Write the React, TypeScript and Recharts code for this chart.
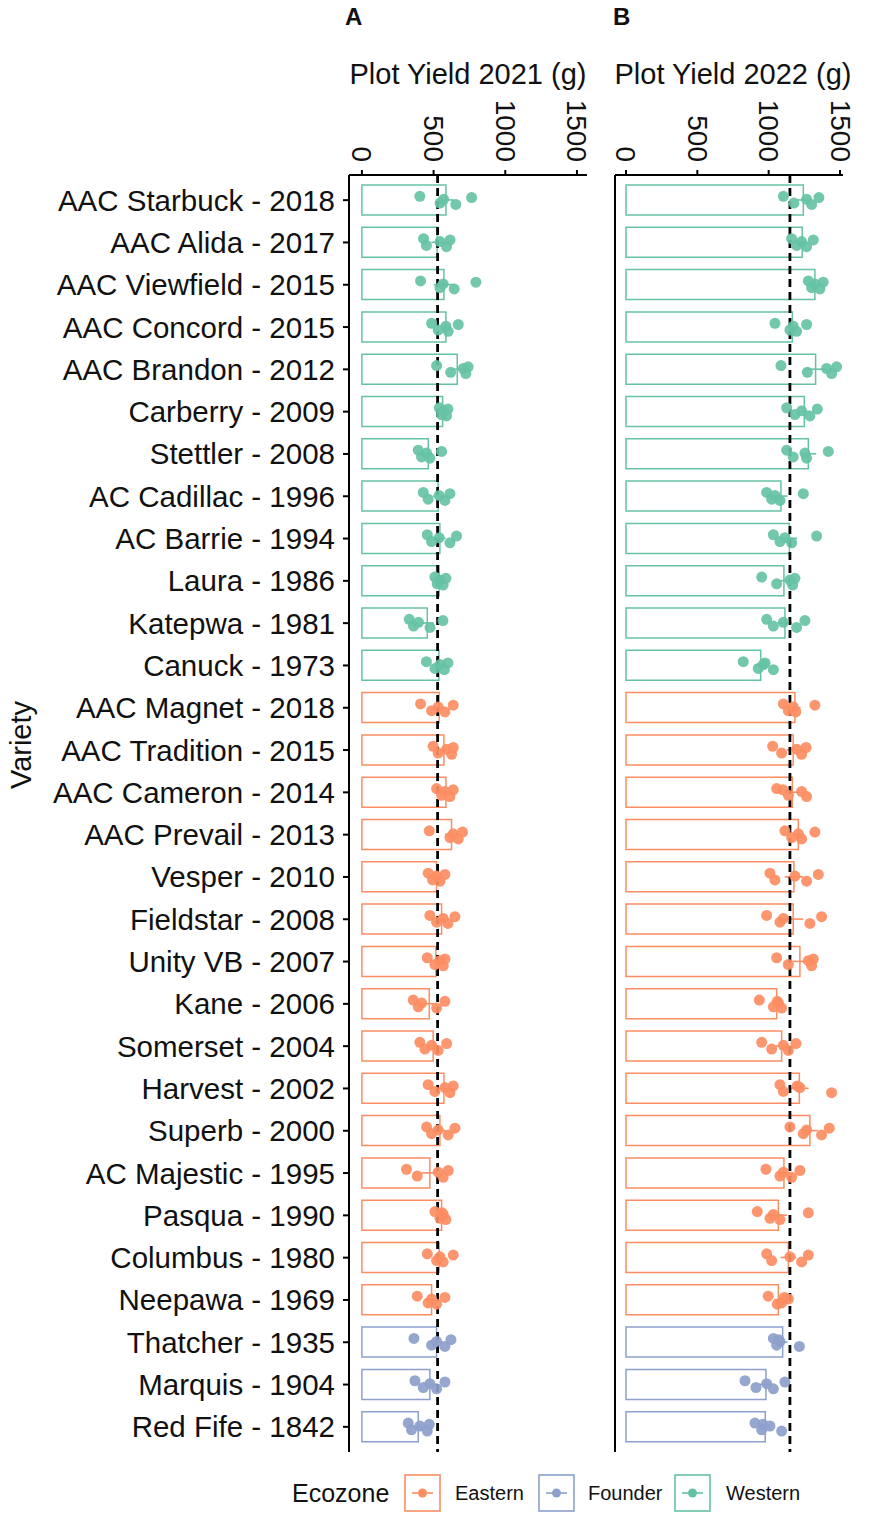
import React from "react"
import { ComposedChart, Bar, Scatter, XAxis, YAxis, ReferenceLine, ErrorBar } from "recharts"

const FONT = "'Liberation Sans', Arial, sans-serif"

const varieties = [
  "AAC Starbuck - 2018", "AAC Alida - 2017", "AAC Viewfield - 2015", "AAC Concord - 2015",
  "AAC Brandon - 2012", "Carberry - 2009", "Stettler - 2008", "AC Cadillac - 1996",
  "AC Barrie - 1994", "Laura - 1986", "Katepwa - 1981", "Canuck - 1973",
  "AAC Magnet - 2018", "AAC Tradition - 2015", "AAC Cameron - 2014", "AAC Prevail - 2013",
  "Vesper - 2010", "Fieldstar - 2008", "Unity VB - 2007", "Kane - 2006",
  "Somerset - 2004", "Harvest - 2002", "Superb - 2000", "AC Majestic - 1995",
  "Pasqua - 1990", "Columbus - 1980", "Neepawa - 1969", "Thatcher - 1935",
  "Marquis - 1904", "Red Fife - 1842",
]

const ecozones = [
  "Western", "Western", "Western", "Western", "Western", "Western",
  "Western", "Western", "Western", "Western", "Western", "Western",
  "Eastern", "Eastern", "Eastern", "Eastern", "Eastern", "Eastern", "Eastern",
  "Eastern", "Eastern", "Eastern", "Eastern", "Eastern", "Eastern", "Eastern", "Eastern",
  "Founder", "Founder", "Founder",
]

const mean2021 = [586, 525, 572, 586, 665, 563, 463, 532, 544, 539, 456, 537, 539, 572, 586, 625, 521, 556, 516, 470, 497, 572, 544, 474, 556, 539, 486, 521, 474, 393]
const se2021 = [55, 40, 70, 35, 40, 15, 30, 35, 40, 15, 45, 25, 40, 25, 20, 45, 20, 35, 25, 45, 35, 35, 40, 55, 15, 30, 35, 45, 40, 30]
const mean2022 = [1243, 1235, 1324, 1166, 1329, 1250, 1278, 1086, 1145, 1107, 1114, 944, 1184, 1172, 1166, 1208, 1177, 1172, 1219, 1056, 1091, 1215, 1289, 1107, 1068, 1138, 1068, 1098, 981, 976]
const se2022 = [45, 25, 20, 40, 75, 40, 55, 45, 55, 45, 50, 40, 40, 45, 45, 35, 65, 70, 50, 30, 40, 65, 55, 45, 60, 55, 30, 35, 50, 35]

const points2021 = [
  [404, 545, 570, 655, 765], [430, 450, 545, 590, 615], [409, 544, 567, 644, 795],
  [486, 532, 586, 602, 672], [521, 619, 707, 725, 741], [540, 555, 570, 590, 600],
  [393, 416, 451, 474, 556], [428, 462, 539, 579, 614], [456, 486, 539, 614, 660],
  [509, 525, 544, 567, 586], [330, 360, 395, 475, 565], [450, 510, 545, 575, 600],
  [409, 486, 532, 579, 637], [497, 532, 591, 626, 637], [521, 556, 579, 614, 637],
  [470, 614, 637, 672, 702], [462, 493, 521, 545, 579], [474, 521, 567, 600, 649],
  [456, 509, 544, 567, 579], [358, 393, 416, 521, 579], [404, 439, 486, 532, 591],
  [462, 509, 579, 614, 637], [451, 486, 532, 602, 649], [311, 386, 532, 567, 602],
  [509, 544, 567, 586, 560], [456, 521, 544, 567, 637], [386, 462, 486, 521, 579],
  [363, 486, 521, 579, 621], [370, 428, 474, 521, 579], [323, 346, 404, 456, 470],
]

const points2022 = [
  [1103, 1177, 1266, 1301, 1352], [1161, 1196, 1231, 1266, 1313], [1278, 1301, 1324, 1359, 1382],
  [1044, 1149, 1172, 1196, 1266], [1086, 1271, 1406, 1441, 1476], [1126, 1184, 1231, 1289, 1341],
  [1126, 1172, 1254, 1266, 1418], [986, 1021, 1044, 1079, 1243], [1033, 1079, 1114, 1161, 1336],
  [951, 1056, 1149, 1168, 1184], [986, 1033, 1103, 1196, 1254], [822, 927, 962, 1033, 975],
  [1103, 1138, 1172, 1190, 1324], [1028, 1091, 1196, 1231, 1262], [1056, 1138, 1231, 1266, 1100],
  [1114, 1161, 1208, 1231, 1324], [1009, 1044, 1184, 1266, 1348], [986, 1079, 1103, 1289, 1371],
  [1056, 1138, 1278, 1301, 1313], [934, 1033, 1068, 1091, 1060], [951, 1021, 1103, 1138, 1191],
  [1079, 1103, 1219, 1441, 1200], [1149, 1243, 1266, 1371, 1425], [981, 1079, 1103, 1161, 1219],
  [920, 1009, 1033, 1079, 1278], [986, 1021, 1149, 1231, 1278], [997, 1091, 1138, 1060, 1110],
  [1033, 1056, 1079, 1215, 1070], [834, 911, 986, 1033, 1114], [904, 951, 1009, 1091, 960],
]

const overallMean2021 = 528
const overallMean2022 = 1149
const xTicks = [0, 500, 1000, 1500]
const zoneNames = ["Eastern", "Founder", "Western"]

const COLORS: Record<string, string> = {
  Eastern: "#FC8D62",
  Founder: "#8DA0CB",
  Western: "#66C2A5",
}

// small vertical offsets for the jittered points (in row units)
const JITTER = [-0.09, 0.07, -0.02, 0.1, -0.06]

function buildRows(means: number[], ses: number[]) {
  return varieties.map((name, i) => {
    const row: any = { name }
    zoneNames.forEach((z) => {
      row[z] = ecozones[i] === z ? means[i] : null
      row["se" + z] = ecozones[i] === z ? ses[i] : null
    })
    return row
  })
}

function buildPoints(points: number[][]) {
  const out: any[] = []
  points.forEach((vals, i) => {
    vals.forEach((v, j) => {
      out.push({ x: v, y: i + JITTER[j % JITTER.length], zone: ecozones[i] })
    })
  })
  return out
}

const TopTick = (props: any) => {
  const { x, y, payload } = props
  return (
    <text
      x={x}
      y={y}
      transform={`rotate(90 ${x} ${y})`}
      textAnchor="end"
      dominantBaseline="central"
      fontSize={28}
      fontFamily={FONT}
      fill="#111"
    >
      {payload.value}
    </text>
  )
}

const Dot = (props: any) => {
  const { cx, cy, payload } = props
  if (cx == null || cy == null) return null
  return <circle cx={cx} cy={cy} r={5.5} fill={COLORS[payload.zone]} fillOpacity={0.92} />
}

type PanelProps = {
  width: number
  margin: { top: number; right: number; bottom: number; left: number }
  yWidth: number
  showLabels: boolean
  domain: [number, number]
  means: number[]
  ses: number[]
  points: number[][]
  overall: number
}

function Panel({ width, margin, yWidth, showLabels, domain, means, ses, points, overall }: PanelProps) {
  const rows = buildRows(means, ses)
  const pts = buildPoints(points)
  const pad = { top: 4, bottom: 4 }
  return (
    <ComposedChart width={width} height={1521} data={rows} layout="vertical" margin={margin} barGap={-30}>
      <XAxis
        type="number"
        dataKey="x"
        orientation="top"
        domain={domain}
        allowDataOverflow
        ticks={xTicks}
        height={60}
        tick={<TopTick />}
        tickSize={5}
        tickMargin={8}
        axisLine={{ stroke: "#000", strokeWidth: 2 }}
        tickLine={{ stroke: "#000", strokeWidth: 2 }}
      />
      <YAxis
        yAxisId="cat"
        type="category"
        dataKey="name"
        width={yWidth}
        interval={0}
        padding={pad}
        tick={showLabels ? { fontSize: 29.5, fill: "#111", fontFamily: FONT } : false}
        tickLine={showLabels ? { stroke: "#000", strokeWidth: 2 } : false}
        tickSize={6}
        tickMargin={8}
        axisLine={{ stroke: "#000", strokeWidth: 2 }}
      />
      <YAxis
        yAxisId="num"
        type="number"
        dataKey="y"
        hide
        domain={[-0.5, 29.5]}
        allowDataOverflow
        padding={pad}
      />
      {zoneNames.map((z) => (
        <Bar
          key={z}
          yAxisId="cat"
          dataKey={z}
          barSize={30}
          fill="none"
          stroke={COLORS[z]}
          strokeWidth={1.5}
          isAnimationActive={false}
        >
          <ErrorBar dataKey={"se" + z} direction="x" width={0} stroke={COLORS[z]} strokeWidth={1.6} />
        </Bar>
      ))}
      <Scatter
        yAxisId="num"
        data={pts}
        shape={<Dot />}
        isAnimationActive={false}
      />
      <ReferenceLine
        yAxisId="cat"
        x={overall}
        stroke="#000"
        strokeWidth={2.8}
        strokeDasharray="8 5"
      />
    </ComposedChart>
  )
}

function Overlay() {
  const legendY = 1493
  const keys = [
    { name: "Eastern", box: 405, text: 455 },
    { name: "Founder", box: 539, text: 588 },
    { name: "Western", box: 675, text: 726 },
  ]
  return (
    <svg width={886} height={1521} style={{ position: "absolute", left: 0, top: 0, pointerEvents: "none" }}>
      <g fontFamily={FONT} fill="#111">
        <text x={345} y={25} fontSize={24} fontWeight="bold">A</text>
        <text x={613} y={25} fontSize={24} fontWeight="bold">B</text>
        <text x={468} y={84} fontSize={29} textAnchor="middle">Plot Yield 2021 (g)</text>
        <text x={733} y={84} fontSize={29} textAnchor="middle">Plot Yield 2022 (g)</text>
        <text x={31} y={745} fontSize={29} textAnchor="middle" transform="rotate(-90 31 745)">Variety</text>
        <text x={292} y={legendY} fontSize={25} dominantBaseline="central">Ecozone</text>
        {keys.map((k) => (
          <g key={k.name}>
            <rect x={k.box} y={legendY - 18} width={35} height={36} fill="none" stroke={COLORS[k.name]} strokeWidth={1.6} />
            <line x1={k.box + 7} x2={k.box + 28} y1={legendY} y2={legendY} stroke={COLORS[k.name]} strokeWidth={1.6} />
            <circle cx={k.box + 17.5} cy={legendY} r={4.5} fill={COLORS[k.name]} />
            <text x={k.text} y={legendY} fontSize={20} dominantBaseline="central">{k.name}</text>
          </g>
        ))}
      </g>
    </svg>
  )
}

export default function App() {
  return (
    <div style={{ position: "absolute", left: 0, top: 0, width: 886, height: 1521, background: "#fff", fontFamily: FONT }}>
      <div style={{ position: "absolute", left: 0, top: 0 }}>
        <Panel
          width={600}
          margin={{ top: 115, right: 13, bottom: 69, left: 0 }}
          yWidth={349}
          showLabels={true}
          domain={[-90, 1570]}
          means={mean2021}
          ses={se2021}
          points={points2021}
          overall={overallMean2021}
        />
      </div>
      <div style={{ position: "absolute", left: 600, top: 0 }}>
        <Panel
          width={286}
          margin={{ top: 115, right: 43, bottom: 69, left: 14 }}
          yWidth={1}
          showLabels={false}
          domain={[-77, 1521]}
          means={mean2022}
          ses={se2022}
          points={points2022}
          overall={overallMean2022}
        />
      </div>
      <Overlay />
    </div>
  )
}
